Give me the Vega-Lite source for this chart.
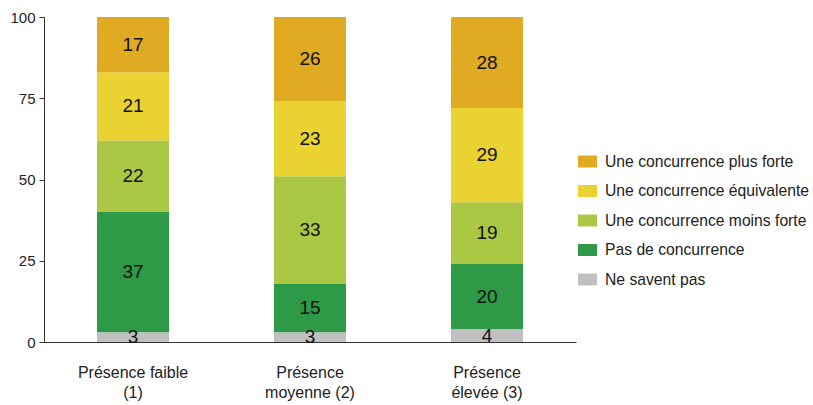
{
  "$schema": "https://vega.github.io/schema/vega-lite/v6.json",
  "width": 532,
  "height": 325,
  "autosize": {"type": "none"},
  "padding": {"left": 44, "top": 17, "right": 237, "bottom": 63},
  "background": "white",
  "config": {
    "font": "Liberation Sans",
    "view": {"stroke": null},
    "axis": {"labelFont": "Liberation Sans", "labelFontSize": 15, "labelColor": "#222", "domainColor": "#333", "tickColor": "#333", "grid": false, "title": null}
  },
  "data": {
    "values": [
      {"groupe": "Présence faible|(1)", "cat": "Ne savent pas", "ord": 1, "v": 3},
      {"groupe": "Présence faible|(1)", "cat": "Pas de concurrence", "ord": 2, "v": 37},
      {"groupe": "Présence faible|(1)", "cat": "Une concurrence moins forte", "ord": 3, "v": 22},
      {"groupe": "Présence faible|(1)", "cat": "Une concurrence équivalente", "ord": 4, "v": 21},
      {"groupe": "Présence faible|(1)", "cat": "Une concurrence plus forte", "ord": 5, "v": 17},
      {"groupe": "Présence|moyenne (2)", "cat": "Ne savent pas", "ord": 1, "v": 3},
      {"groupe": "Présence|moyenne (2)", "cat": "Pas de concurrence", "ord": 2, "v": 15},
      {"groupe": "Présence|moyenne (2)", "cat": "Une concurrence moins forte", "ord": 3, "v": 33},
      {"groupe": "Présence|moyenne (2)", "cat": "Une concurrence équivalente", "ord": 4, "v": 23},
      {"groupe": "Présence|moyenne (2)", "cat": "Une concurrence plus forte", "ord": 5, "v": 26},
      {"groupe": "Présence|élevée (3)", "cat": "Ne savent pas", "ord": 1, "v": 4},
      {"groupe": "Présence|élevée (3)", "cat": "Pas de concurrence", "ord": 2, "v": 20},
      {"groupe": "Présence|élevée (3)", "cat": "Une concurrence moins forte", "ord": 3, "v": 19},
      {"groupe": "Présence|élevée (3)", "cat": "Une concurrence équivalente", "ord": 4, "v": 29},
      {"groupe": "Présence|élevée (3)", "cat": "Une concurrence plus forte", "ord": 5, "v": 28}
    ]
  },
  "encoding": {
    "x": {
      "field": "groupe", "type": "nominal", "sort": null,
      "scale": {"paddingInner": 0.594, "paddingOuter": 0.3},
      "axis": {"labelAngle": 0, "ticks": false, "labelPadding": 22, "labelFontSize": 16, "labelExpr": "split(datum.label, '|')", "labelLineHeight": 20, "labelBaseline": "top"}
    },
    "y": {
      "field": "v", "type": "quantitative", "stack": "zero",
      "scale": {"domain": [0, 100], "nice": false},
      "axis": {"values": [0, 25, 50, 75, 100], "tickSize": 5, "labelPadding": 4}
    },
    "order": {"field": "ord", "type": "quantitative"}
  },
  "layer": [
    {
      "mark": {"type": "bar", "width": 72},
      "encoding": {
        "color": {
          "field": "cat", "type": "nominal",
          "scale": {
            "domain": ["Une concurrence plus forte", "Une concurrence équivalente", "Une concurrence moins forte", "Pas de concurrence", "Ne savent pas"],
            "range": ["#E0AA22", "#E9D232", "#AAC843", "#2E9A48", "#C0C0C0"]
          },
          "legend": {
            "title": null, "orient": "none", "legendX": 534, "legendY": 135,
            "symbolType": "M-1,-0.63L1,-0.63L1,0.63L-1,0.63Z", "symbolSize": 361, "symbolStrokeWidth": 0,
            "labelFontSize": 15.7, "labelLimit": 300, "labelColor": "#222", "labelFont": "Liberation Sans", "labelOffset": 8, "rowPadding": 11.5
          }
        }
      }
    },
    {
      "mark": {"type": "text", "fontSize": 19, "color": "#111", "font": "Liberation Sans", "baseline": "middle"},
      "encoding": {
        "y": {"field": "v", "type": "quantitative", "stack": "zero", "bandPosition": 0.5},
        "text": {"field": "v", "type": "quantitative"}
      }
    }
  ]
}
